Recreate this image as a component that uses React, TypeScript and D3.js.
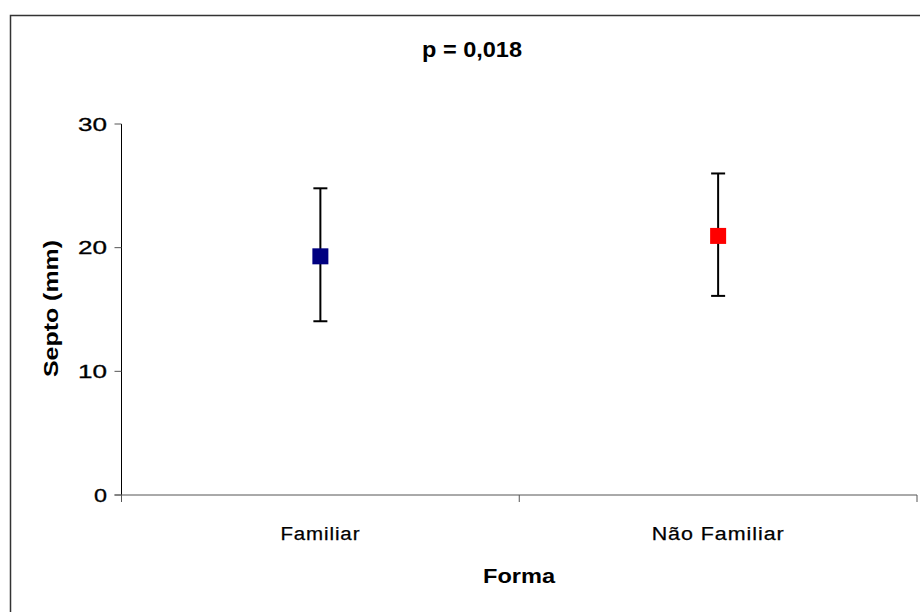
import React from "react";
import * as d3 from "d3";

const categories = ["Familiar", "Não Familiar"];
const means = [19.3, 20.95];
const lows = [14.05, 16.1];
const highs = [24.8, 26.0];
const colors = ["#000080", "#ff0000"];
const yTicks = [0, 10, 20, 30];
const title = "p = 0,018";
const yLabel = "Septo (mm)";
const xLabel = "Forma";

export default function App() {
  const W = 920, H = 612;
  const left = 121.5, right = 917, top = 124, bottom = 495;
  const x = d3.scaleBand().domain(categories).range([left, right]).padding(0);
  const y = d3.scaleLinear().domain([0, 30]).range([bottom, top]);
  const font = "'Liberation Sans', Arial, sans-serif";
  const sq = 16;
  const cap = 7;
  const catLen = [80, 133];
  return (
    <svg width={W} height={H} style={{ position: "absolute", left: 0, top: 0 }} fontFamily={font}>
      <rect x={0} y={0} width={W} height={H} fill="#fff" />
      <path d={`M10.5,${H + 5}V15.5H${W + 5}`} fill="none" stroke="#333" strokeWidth={1.5} />
      <text x={472} y={57} textAnchor="middle" fontSize={22.5} fontWeight="bold" textLength={100} lengthAdjust="spacingAndGlyphs">{title}</text>
      {/* y axis */}
      <line x1={left} x2={left} y1={top} y2={bottom} stroke="#000" strokeWidth={1} />
      {yTicks.map((t) => (
        <g key={t}>
          <line x1={left - 7} x2={left} y1={y(t)} y2={y(t)} stroke={t === 0 ? "#666" : "#555"} strokeWidth={1} />
          <text x={107} y={y(t) + 6.5} textAnchor="end" fontSize={18} stroke="#000" strokeWidth={0.3} textLength={t === 0 ? 13 : 29} lengthAdjust="spacingAndGlyphs">{t}</text>
        </g>
      ))}
      {/* x axis */}
      <line x1={left - 7} x2={right} y1={bottom} y2={bottom} stroke="#555" strokeWidth={1} />
      {[left, left + x.bandwidth(), right].map((px, i) => (
        <line key={i} x1={px} x2={px} y1={bottom} y2={bottom + 7} stroke="#555" strokeWidth={1} />
      ))}
      {categories.map((c, i) => (
        <text key={c} x={x(c)! + x.bandwidth() / 2} y={540} textAnchor="middle" fontSize={18} stroke="#000" strokeWidth={0.25} letterSpacing={0.8} textLength={catLen[i]} lengthAdjust="spacingAndGlyphs">{c}</text>
      ))}
      <text x={519} y={583} textAnchor="middle" fontSize={20} fontWeight="bold" textLength={72} lengthAdjust="spacingAndGlyphs">{xLabel}</text>
      <text transform={`translate(58,308.5) rotate(-90)`} textAnchor="middle" fontSize={20} fontWeight="bold" textLength={137} lengthAdjust="spacingAndGlyphs">{yLabel}</text>
      {/* error bars */}
      {categories.map((c, i) => {
        const cx = x(c)! + x.bandwidth() / 2;
        return (
          <g key={c}>
            <line x1={cx} x2={cx} y1={y(highs[i])} y2={y(lows[i])} stroke="#000" strokeWidth={2} />
            <line x1={cx - cap} x2={cx + cap} y1={y(highs[i])} y2={y(highs[i])} stroke="#000" strokeWidth={2} />
            <line x1={cx - cap} x2={cx + cap} y1={y(lows[i])} y2={y(lows[i])} stroke="#000" strokeWidth={2} />
            <rect x={cx - sq / 2} y={y(means[i]) - sq / 2} width={sq} height={sq} fill={colors[i]} />
          </g>
        );
      })}
    </svg>
  );
}
